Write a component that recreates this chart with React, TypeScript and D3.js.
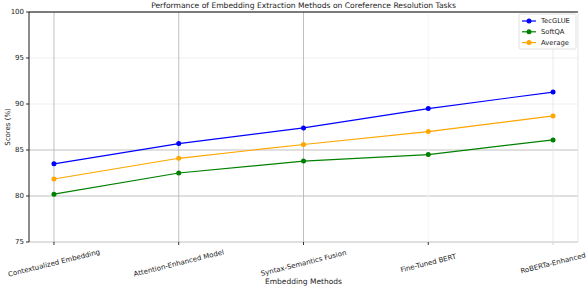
import React from "react";
import * as d3 from "d3";

// values
const methods = [
  "Contextualized Embedding",
  "Attention-Enhanced Model",
  "Syntax-Semantics Fusion",
  "Fine-Tuned BERT",
  "RoBERTa-Enhanced",
];
const techGlue = [83.5, 85.7, 87.4, 89.5, 91.3];
const softQa = [80.2, 82.5, 83.8, 84.5, 86.1];
const average = [81.85, 84.1, 85.6, 87.0, 88.7];
const yTicks = [75, 80, 85, 90, 95, 100];

const seriesNames = ["TecGLUE", "SoftQA", "Average"];
const seriesColors = ["#0000ff", "#008000", "#ffa500"];

interface Series {
  name: string;
  color: string;
  values: number[];
}

const App: React.FC = () => {
  const width = 586;
  const height = 286;
  const margin = { top: 12, right: 8, bottom: 44, left: 29 };
  const font = "'DejaVu Sans', sans-serif";

  const series: Series[] = [techGlue, softQa, average].map((values, i) => ({
    name: seriesNames[i],
    color: seriesColors[i],
    values,
  }));

  const x = d3
    .scalePoint<string>()
    .domain(methods)
    .range([margin.left, width - margin.right])
    .padding(0.2);

  const y = d3
    .scaleLinear()
    .domain([75, 100])
    .range([height - margin.bottom, margin.top]);

  const line = d3
    .line<number>()
    .x((_, i) => x(methods[i]) as number)
    .y((d) => y(d));

  const x0 = margin.left;
  const x1 = width - margin.right;
  const y0 = height - margin.bottom;
  const y1 = margin.top;

  // the downscaled reference shows some grid lines fainter than others
  const hGridColor = (t: number) => (t === 90 || t === 95 ? "#ececec" : "#b0b0b0");
  const vGridColor = (i: number) => (i === 4 ? "#e4e4e4" : i === 3 ? "#f2f2f2" : "#b0b0b0");

  const legendX = 519;
  const legendY = 14;

  return (
    <svg width={width} height={height} style={{ position: "absolute", left: 0, top: 0, background: "#fff" }}>
      <rect x={0} y={0} width={width} height={height} fill="#fff" />
      {/* grid */}
      {yTicks.map((t) => (
        <line key={"hg" + t} x1={x0} x2={x1} y1={y(t)} y2={y(t)} stroke={hGridColor(t)} strokeWidth={0.8} />
      ))}
      {methods.map((m, i) => (
        <line key={"vg" + m} x1={x(m)} x2={x(m)} y1={y0} y2={y1} stroke={vGridColor(i)} strokeWidth={0.8} />
      ))}

      {/* spines */}
      <line x1={x0} x2={x0} y1={y0} y2={y1} stroke="#000" strokeWidth={0.9} />
      <line x1={x0} x2={x1} y1={y1} y2={y1} stroke="#000" strokeWidth={0.9} />
      <line x1={x1} x2={x1} y1={y0} y2={y1} stroke="#e0e0e0" strokeWidth={0.8} />

      {/* y axis */}
      {yTicks.map((t) => (
        <g key={"yt" + t}>
          <line x1={x0 - 3} x2={x0} y1={y(t)} y2={y(t)} stroke="#000" strokeWidth={0.8} />
          <text x={x0 - 5} y={y(t)} dy="0.35em" textAnchor="end" fontFamily={font} fontSize={7} fill="#222">
            {t}
          </text>
        </g>
      ))}
      <text
        transform={`translate(8,${(y0 + y1) / 2}) rotate(-90)`}
        textAnchor="middle"
        dy="0.35em"
        fontFamily={font}
        fontSize={7}
        fill="#222"
      >
        Scores (%)
      </text>

      {/* x axis */}
      {methods.map((m, i) => (
        <g key={"xt" + m}>
          <line x1={x(m)} x2={x(m)} y1={y0} y2={y0 + 3} stroke={i === 4 ? "#ccc" : "#000"} strokeWidth={0.8} />
          <text
            transform={`translate(${x(m)},${y0 + 21}) rotate(-14)`}
            textAnchor="middle"
            dy="0.35em"
            fontFamily={font}
            fontSize={7}
            fill="#222"
          >
            {m}
          </text>
        </g>
      ))}
      <text x={(x0 + x1) / 2} y={284} textAnchor="middle" fontFamily={font} fontSize={7.5} fill="#222">
        Embedding Methods
      </text>

      {/* title */}
      <text x={(x0 + x1) / 2} y={8} textAnchor="middle" fontFamily={font} fontSize={7.6} fill="#222">
        Performance of Embedding Extraction Methods on Coreference Resolution Tasks
      </text>

      {/* series */}
      {series.map((s) => (
        <g key={s.name}>
          <path d={line(s.values) || ""} fill="none" stroke={s.color} strokeWidth={1.2} />
          {s.values.map((v, i) => (
            <circle key={i} cx={x(methods[i])} cy={y(v)} r={2.5} fill={s.color} />
          ))}
        </g>
      ))}

      {/* legend */}
      <rect x={legendX} y={legendY} width={57} height={35} fill="#fff" stroke="#d8d8d8" strokeWidth={0.8} rx={1.5} />
      {series.map((s, i) => {
        const ly = legendY + 7 + i * 10.8;
        return (
          <g key={"lg" + s.name}>
            <line x1={legendX + 3} x2={legendX + 17} y1={ly} y2={ly} stroke={s.color} strokeWidth={1.2} />
            <circle cx={legendX + 10} cy={ly} r={2.5} fill={s.color} />
            <text x={legendX + 22} y={ly} dy="0.35em" fontFamily={font} fontSize={6.8} fill="#222">
              {s.name}
            </text>
          </g>
        );
      })}
    </svg>
  );
};

export default App;
